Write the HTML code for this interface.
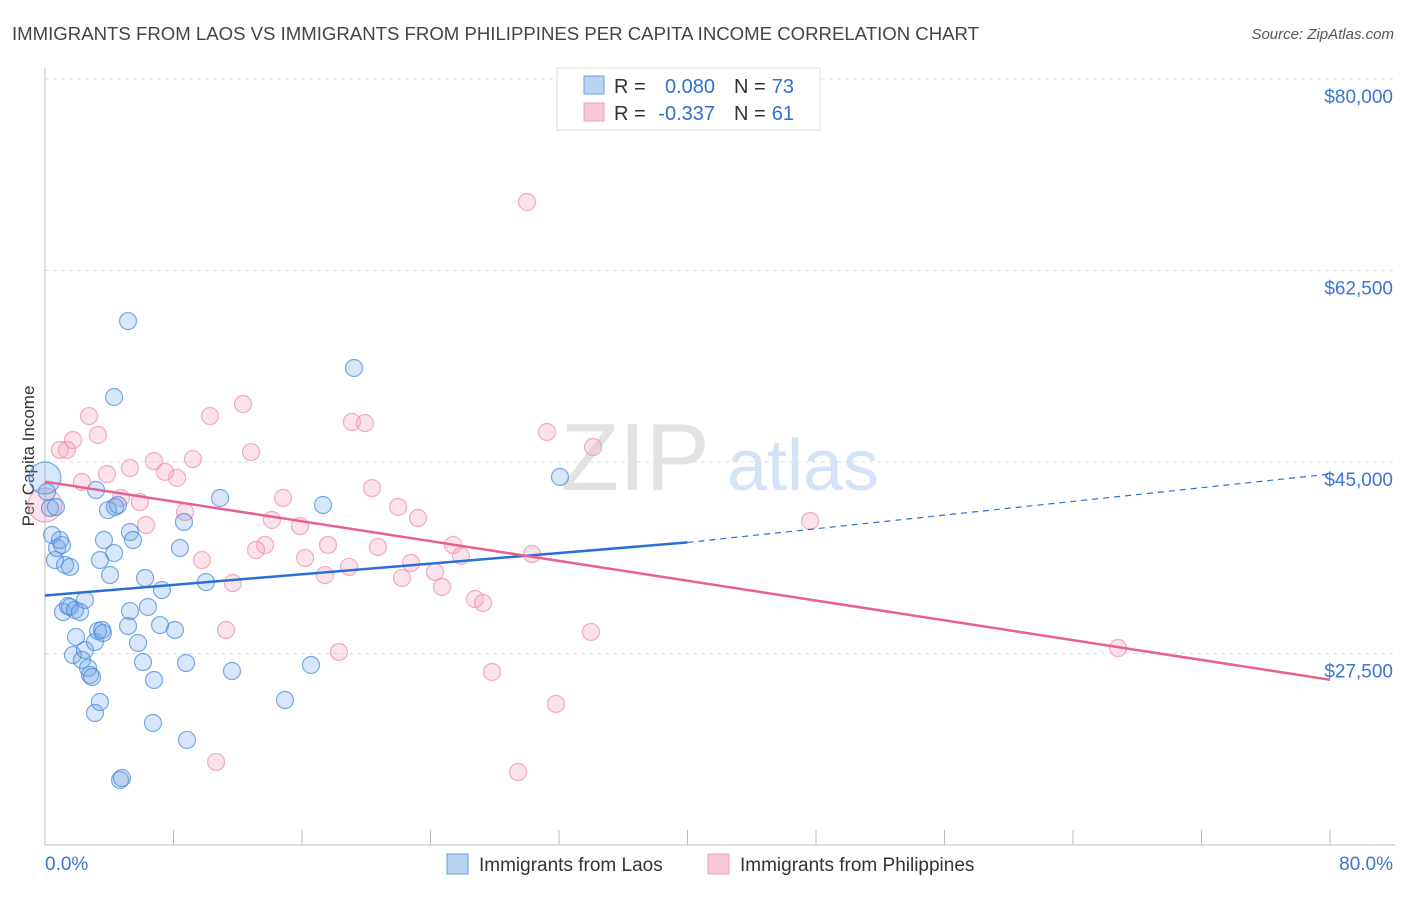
<!DOCTYPE html>
<html><head><meta charset="utf-8"><style>
body{margin:0;background:#fff;font-family:"Liberation Sans",sans-serif;}
svg text{font-family:"Liberation Sans",sans-serif;}
</style></head><body>
<svg id="chart" width="1406" height="892" viewBox="0 0 1406 892" xmlns="http://www.w3.org/2000/svg">
<text x="12" y="40" font-size="18" fill="#444" textLength="967" lengthAdjust="spacingAndGlyphs">IMMIGRANTS FROM LAOS VS IMMIGRANTS FROM PHILIPPINES PER CAPITA INCOME CORRELATION CHART</text>
<text x="1394" y="39" font-size="15" fill="#555" text-anchor="end" font-style="italic">Source: ZipAtlas.com</text>
<text transform="translate(34,456) rotate(-90)" font-size="17" fill="#333" text-anchor="middle">Per Capita Income</text>
<g><text x="635" y="490" font-size="96" fill="#e2e2e2" text-anchor="middle" font-family="Liberation Serif">ZIP</text><text x="803" y="490" font-size="72" fill="#d4e3f5" text-anchor="middle">atlas</text></g>
<g id="grid"></g><g id="axes"></g><g id="pts"></g><g id="lines"></g>
<g>
<rect x="557" y="68" width="263" height="62" fill="#fff" stroke="#ddd"/>
<rect x="584" y="76" width="20" height="18" fill="#b9d3f3" stroke="#6b9fe0"/>
<rect x="584" y="103" width="20" height="18" fill="#f9c8d6" stroke="#eea0b8"/>
<text x="614" y="93" font-size="20" fill="#333">R =</text>
<text x="715" y="93" font-size="20" fill="#2f6fd0" text-anchor="end">0.080</text>
<text x="734" y="93" font-size="20" fill="#333">N =</text>
<text x="794" y="93" font-size="20" fill="#2f6fd0" text-anchor="end">73</text>
<text x="614" y="120" font-size="20" fill="#333">R =</text>
<text x="715" y="120" font-size="20" fill="#2f6fd0" text-anchor="end">-0.337</text>
<text x="734" y="120" font-size="20" fill="#333">N =</text>
<text x="794" y="120" font-size="20" fill="#2f6fd0" text-anchor="end">61</text>
</g>
<g>
<rect x="447" y="854" width="21" height="20" fill="#b9d3f3" stroke="#6b9fe0"/>
<text x="479" y="871" font-size="19" fill="#333">Immigrants from Laos</text>
<rect x="708" y="854" width="21" height="20" fill="#f9c8d6" stroke="#eea0b8"/>
<text x="740" y="871" font-size="19" fill="#333">Immigrants from Philippines</text>
</g>
</svg>
<script>
const yTicks=[27500,45000,62500,80000];
const yTickLabels=["$27,500","$45,000","$62,500","$80,000"];
const xTickLabels=["0.0%","80.0%"];
const laosX=[0,0.12,0.31,0.44,0.62,0.75,0.93,1.06,1.25,1.56,1.12,1.43,1.56,1.87,2.18,2.49,1.93,1.74,2.30,2.49,2.68,2.80,2.93,3.11,3.30,3.55,3.61,3.11,3.42,3.18,3.42,3.67,4.05,3.92,4.36,4.54,4.30,4.30,5.17,5.29,5.48,5.29,5.17,5.79,6.10,6.23,6.41,6.79,6.72,7.16,7.28,8.09,8.40,8.65,8.78,8.84,10.02,10.90,11.64,14.94,16.56,17.31,19.24,32.06,4.67,4.79,0.68];
const laosY=[43540,42260,40800,38330,36040,37140,37870,37420,35590,35410,31290,31840,31750,31480,31290,32390,29010,27360,26910,27820,26180,25540,25350,28550,29560,29650,29370,22060,23070,42440,36040,37870,34670,40610,40890,41070,36680,50940,57880,38600,37870,31380,30010,28460,26720,34400,31750,25080,21150,30100,33300,29650,37140,39520,26630,19600,34030,41710,25900,23250,26450,41070,53590,43630,15940,16120,40890];
const philX=[0,30.01,12.33,10.27,2.74,19.11,19.92,31.25,1.74,3.30,0.93,1.37,12.83,6.79,9.21,5.29,7.47,8.22,3.86,2.30,34.12,20.36,14.82,4.73,5.91,8.72,21.98,23.22,14.13,15.88,6.29,17.62,20.73,13.70,13.14,16.19,25.40,9.77,25.90,22.79,30.32,11.70,17.43,18.93,22.23,24.28,24.72,26.77,27.27,11.27,33.99,18.30,27.83,31.81,29.45,10.65,47.63,66.81];
const philY=[41070,68760,50300,49200,49200,48660,48560,47740,47010,47470,46100,46100,45910,45090,45270,44450,44090,43540,43900,43170,46370,42620,41710,41710,41340,40430,40890,39880,39700,39150,39240,37420,37230,37420,36960,36230,37420,36040,36410,35770,36590,33940,34670,35410,34400,34950,33580,32480,32120,29650,29470,27640,25810,22890,16670,17590,39610,28000];
const laosTrend=[[0,32800],[40,37650],[80,43900]];
const philTrend=[[0,43200],[80,25100]];
const NS="http://www.w3.org/2000/svg";
const X=p=>45+p*(1330-45)/80;
const Y=v=>462-(v-45000)*191.5/17500;
function mk(t,a,parent){const e=document.createElementNS(NS,t);for(const k in a)e.setAttribute(k,a[k]);document.getElementById(parent).appendChild(e);return e;}
yTicks.forEach((v,i)=>{
 const g=mk('line',{x1:45,x2:1395,y1:Y(v),y2:Y(v),stroke:'#ddd','stroke-dasharray':'4,4'},'grid');
 
 
 const t=mk('text',{x:1393,y:Y(v)+24,'font-size':19,fill:'#3a75d0','text-anchor':'end'},'grid');
 t.textContent=yTickLabels[i];
 
 
});
const ax=mk('line',{x1:45,x2:45,y1:68,y2:845,stroke:'#bbb'},'axes');


const bx=mk('line',{x1:45,x2:1395,y1:845,y2:845,stroke:'#bbb'},'axes');


for(let i=0;i<=10;i++){
 const tk=mk('line',{x1:X(i*8),x2:X(i*8),y1:830,y2:845,stroke:'#bbb'},'axes');
 
 
}
[[0,45,'start'],[80,1393,'end']].forEach((d,i)=>{
 const t=mk('text',{x:d[1],y:870,'font-size':19,fill:'#3a75d0','text-anchor':d[2]},'axes');
 t.textContent=xTickLabels[i];
 
 
});
philX.forEach((x,i)=>{
 const c=mk('circle',{cx:X(x),cy:Y(philY[i]),r:i==0?17:8.5,fill:'rgba(244,160,188,0.3)',stroke:'rgba(236,140,170,0.7)','stroke-width':1.2},'pts');
 
 
});
laosX.forEach((x,i)=>{
 const c=mk('circle',{cx:X(x),cy:Y(laosY[i]),r:i==0?16:8.5,fill:'rgba(110,165,230,0.28)',stroke:'rgba(70,135,220,0.7)','stroke-width':1.2},'pts');
 
 
});
const l1=mk('line',{x1:X(laosTrend[0][0]),y1:Y(laosTrend[0][1]),x2:X(laosTrend[1][0]),y2:Y(laosTrend[1][1]),stroke:'#2a6fd6','stroke-width':2.5},'lines');


const l2=mk('line',{x1:X(laosTrend[1][0]),y1:Y(laosTrend[1][1]),x2:X(laosTrend[2][0]),y2:Y(laosTrend[2][1]),stroke:'#2a6fd6','stroke-width':1.2,'stroke-dasharray':'6,5'},'lines');


const l3=mk('line',{x1:X(philTrend[0][0]),y1:Y(philTrend[0][1]),x2:X(philTrend[1][0]),y2:Y(philTrend[1][1]),stroke:'#e8608f','stroke-width':2.5},'lines');


</script>
</body></html>
